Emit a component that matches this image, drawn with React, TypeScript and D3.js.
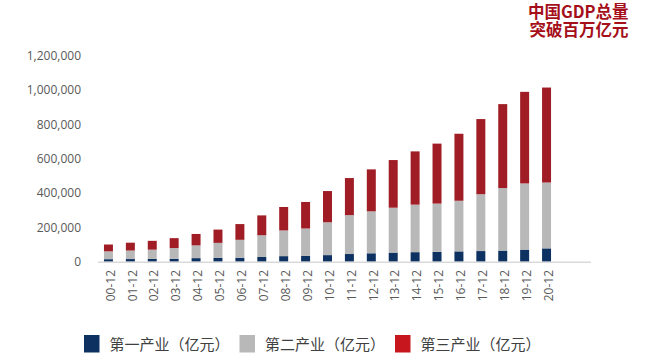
import React, { useEffect, useRef } from "react";
import * as d3 from "d3";

// GDP by sector, 亿元
const years = ["00-12", "01-12", "02-12", "03-12", "04-12", "05-12", "06-12", "07-12", "08-12", "09-12", "10-12",
  "11-12", "12-12", "13-12", "14-12", "15-12", "16-12", "17-12", "18-12", "19-12", "20-12"];
const primary = [14717, 15503, 16190, 16970, 20904, 21807, 23317, 27674, 32464, 33584, 38430,
  44781, 49085, 53028, 55626, 57775, 60139, 62100, 64745, 70467, 77754];
const secondary = [45664, 49660, 54105, 62697, 74287, 88082, 104359, 126630, 149952, 160168, 191626,
  227035, 244639, 261951, 277282, 281339, 295428, 331581, 364835, 386165, 384255];
const tertiary = [39899, 45700, 51421, 57756, 66649, 77430, 91759, 115810, 136805, 154765, 182062,
  216123, 244856, 277984, 310654, 349745, 390828, 438356, 489701, 534233, 553977];
const seriesNames = ["第一产业（亿元）", "第二产业（亿元）", "第三产业（亿元）"];
const yTicks = [0, 200000, 400000, 600000, 800000, 1000000, 1200000];
const titleLines = ["中国GDP总量", "突破百万亿元"];

const App: React.FC = () => {
  const svgRef = useRef<SVGSVGElement>(null);

  useEffect(() => {
    if (!svgRef.current) return;
    const svg = d3.select(svgRef.current);
    svg.selectAll("*").remove();

    const cjk = "'Noto Sans CJK SC', sans-serif";
    const latin = "'Open Sans', 'Noto Sans', sans-serif";
    const colors = ["#0d3262", "#b8b8b8", "#a01d25"];
    const legendColors = ["#0d3262", "#b8b8b8", "#c8161e"];

    const x = d3.scaleBand<string>()
      .domain(years)
      .range([97.5, 557.5])
      .paddingInner(0.59)
      .paddingOuter(0.295);

    const y = d3.scaleLinear().domain([0, 1200000]).range([261.7, 56]);

    const rows = years.map((yr, i) => ({ yr, p: primary[i], s: secondary[i], t: tertiary[i] }));
    const stacked = d3.stack<any>().keys(["p", "s", "t"])(rows);

    // y labels
    svg.append("g")
      .selectAll("text")
      .data(yTicks)
      .join("text")
      .attr("x", 81)
      .attr("y", d => y(d))
      .attr("dy", "0.35em")
      .attr("text-anchor", "end")
      .attr("font-family", latin)
      .attr("font-size", 12)
      .attr("fill", "#595959")
      .text(d => d3.format(",")(d));

    // bars
    stacked.forEach((layer, li) => {
      svg.append("g")
        .selectAll("rect")
        .data(layer)
        .join("rect")
        .attr("x", d => x(d.data.yr) as number)
        .attr("width", x.bandwidth())
        .attr("y", d => y(d[1]))
        .attr("height", d => y(d[0]) - y(d[1]))
        .attr("fill", colors[li]);
    });

    // axis line
    svg.append("line")
      .attr("x1", 98).attr("x2", 591)
      .attr("y1", y(0) + 0.5).attr("y2", y(0) + 0.5)
      .attr("stroke", "#d9d9d9")
      .attr("stroke-width", 1.5);

    // x labels
    svg.append("g")
      .selectAll("text")
      .data(years)
      .join("text")
      .attr("transform", d => `translate(${(x(d) as number) + x.bandwidth() / 2 + 2},270) rotate(-90)`)
      .attr("dy", "0.35em")
      .attr("text-anchor", "end")
      .attr("font-family", latin)
      .attr("font-size", 12)
      .attr("fill", "#595959")
      .text(d => d);

    // legend
    const legendX = [84, 239.5, 395];
    seriesNames.forEach((name, i) => {
      const g = svg.append("g").attr("transform", `translate(${legendX[i]},335)`);
      g.append("rect").attr("width", 15.5).attr("height", 17.5).attr("fill", legendColors[i]);
      g.append("text")
        .attr("x", 25.5)
        .attr("y", 14.5)
        .attr("font-family", cjk)
        .attr("font-size", 15)
        .attr("fill", "#404040")
        .text(name);
    });

    // title
    svg.append("g")
      .selectAll("text")
      .data(titleLines)
      .join("text")
      .attr("x", 628.5)
      .attr("y", (d, i) => 17.5 + i * 18.6)
      .attr("text-anchor", "end")
      .attr("font-family", cjk)
      .attr("font-weight", "bold")
      .attr("font-size", 16.5)
      .attr("fill", "#a50f1a")
      .text(d => d);
  }, []);

  return (
    <div style={{ position: "absolute", left: 0, top: 0, width: 660, height: 358, background: "white" }}>
      <svg ref={svgRef} width={660} height={358} style={{ display: "block" }} />
    </div>
  );
};

export default App;
